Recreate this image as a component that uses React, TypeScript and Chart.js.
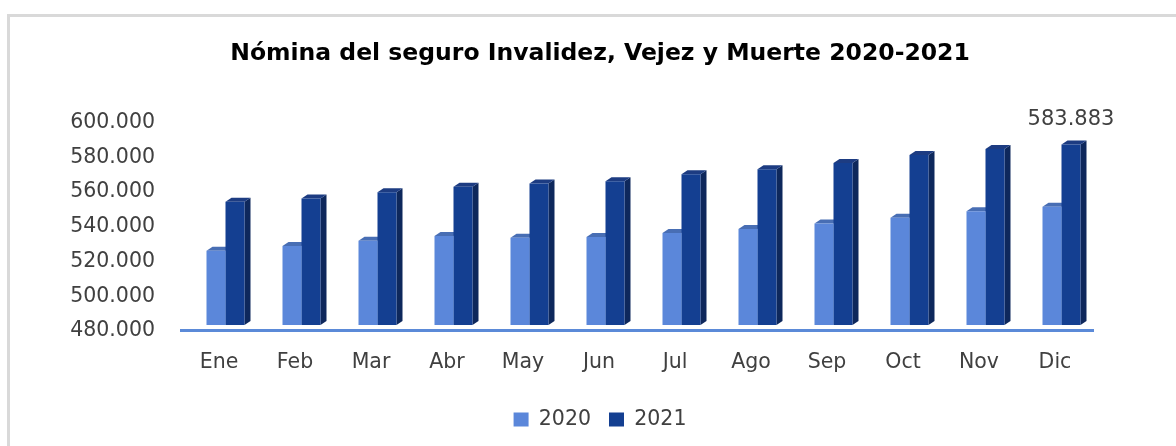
import React, { useEffect, useRef } from 'react';
import { Chart, registerables } from 'chart.js';

Chart.register(...registerables);

// ---- data ----
const categories = ['Ene', 'Feb', 'Mar', 'Abr', 'May', 'Jun', 'Jul', 'Ago', 'Sep', 'Oct', 'Nov', 'Dic'];
const seriesNames = ['2020', '2021'];
const values2020 = [522700, 525400, 528500, 531200, 530200, 530700, 533000, 535200, 538400, 541700, 545500, 548000];
const values2021 = [550900, 552800, 556400, 559500, 561400, 562800, 566800, 569700, 573300, 577900, 581300, 583883];
const yMin = 480000;
const yMax = 600000;
const yStep = 20000;
const titleText = 'Nómina del seguro Invalidez, Vejez y Muerte 2020-2021';

// ---- styles ----
const FONT = 'DejaVu Sans';
const FRONT = ['#5B87DA', '#143F91'];
const SIDE = ['#3F66B0', '#0E285C'];
const TOP = ['#486EB4', '#1D3C82'];
const DX = 6;
const DY = 4;

const fmt = (v: number) => Math.round(v).toString().replace(/\B(?=(\d{3})+(?!\d))/g, '.');

const bar3d = {
  id: 'bar3d',
  beforeDatasetsDraw(chart: any) {
    const ctx = chart.ctx;
    const ca = chart.chartArea;
    ctx.save();
    ctx.strokeStyle = '#5B8AD8';
    ctx.lineWidth = 3;
    ctx.beginPath();
    ctx.moveTo(ca.left - 7.5, ca.bottom + 5.5);
    ctx.lineTo(ca.right - 5.5, ca.bottom + 5.5);
    ctx.stroke();
    chart.data.datasets.forEach((_ds: any, di: number) => {
      const meta = chart.getDatasetMeta(di);
      meta.data.forEach((el: any) => {
        const p = el.getProps(['x', 'y', 'base', 'width'], true);
        const x = p.x;
        const y = p.y;
        const width = p.width;
        const base = Math.min(p.base, ca.bottom);
        const l = x - width / 2;
        const r = x + width / 2;
        ctx.fillStyle = SIDE[di];
        ctx.beginPath();
        ctx.moveTo(r, y);
        ctx.lineTo(r + DX, y - DY);
        ctx.lineTo(r + DX, base - DY);
        ctx.lineTo(r, base);
        ctx.closePath();
        ctx.fill();
        ctx.fillStyle = TOP[di];
        ctx.beginPath();
        ctx.moveTo(l, y);
        ctx.lineTo(l + DX, y - DY);
        ctx.lineTo(r + DX, y - DY);
        ctx.lineTo(r, y);
        ctx.closePath();
        ctx.fill();
      });
    });
    ctx.restore();
  },
  afterDatasetsDraw(chart: any) {
    const ctx = chart.ctx;
    const di = 1;
    const meta = chart.getDatasetMeta(di);
    const idx = values2021.length - 1;
    const el = meta.data[idx];
    if (!el) return;
    ctx.save();
    ctx.font = `21px "${FONT}"`;
    ctx.fillStyle = '#404040';
    ctx.textAlign = 'center';
    ctx.textBaseline = 'middle';
    ctx.fillText(fmt(values2021[idx]), el.x, el.y - 24.5);
    ctx.restore();
  },
};

export default function App() {
  const ref = useRef<HTMLCanvasElement | null>(null);

  useEffect(() => {
    if (!ref.current) return;
    const chart = new Chart(ref.current, {
      type: 'bar',
      data: {
        labels: categories,
        datasets: [
          { label: seriesNames[0], data: values2020, backgroundColor: FRONT[0], borderWidth: 0 },
          { label: seriesNames[1], data: values2021, backgroundColor: FRONT[1], borderWidth: 0 },
        ],
      },
      options: {
        responsive: false,
        animation: false,
        layout: { padding: { top: 0, left: 0, right: 0, bottom: 6.25 } },
        datasets: { bar: { categoryPercentage: 0.5, barPercentage: 1 } } as any,
        plugins: {
          title: {
            display: true,
            text: titleText,
            color: '#000000',
            font: { family: FONT, size: 23.5, weight: 'bold' },
            padding: { top: 40, bottom: 48.3 },
          },
          legend: {
            position: 'bottom',
            labels: {
              boxWidth: 15,
              boxHeight: 14,
              padding: 18,
              color: '#404040',
              font: { family: FONT, size: 20.5 },
            },
          },
          tooltip: { enabled: false },
        },
        scales: {
          x: {
            grid: { display: false, drawTicks: false },
            border: { display: false },
            ticks: {
              color: '#404040',
              font: { family: FONT, size: 20.5 },
              padding: 25.5,
              labelOffset: -6.5,
              maxRotation: 0,
              autoSkip: false,
            },
            afterFit: (s: any) => { s.height = 66.25; },
          },
          y: {
            min: yMin,
            max: yMax,
            grid: { display: false, drawTicks: false },
            border: { display: false },
            ticks: {
              stepSize: yStep,
              color: '#404040',
              font: { family: FONT, size: 20.5 },
              padding: 32.5,
              labelOffset: 6,
              callback: (v: any) => fmt(Number(v)),
            },
            afterFit: (s: any) => { s.width = 180.5; },
          },
          yRight: {
            type: 'linear',
            position: 'right',
            display: true,
            grid: { display: false, drawTicks: false },
            border: { display: false },
            ticks: { display: false },
            afterFit: (s: any) => { s.width = 93.5; },
          },
        },
      } as any,
      plugins: [bar3d],
    });
    return () => chart.destroy();
  }, []);

  return (
    <>
      <div
        style={{
          position: 'fixed',
          left: 7,
          top: 14,
          width: 1400,
          height: 800,
          borderTop: '3px solid #d9d9d9',
          borderLeft: '3px solid #d9d9d9',
          background: '#ffffff',
        }}
      />
      <canvas
        ref={ref}
        width={1186}
        height={446}
        style={{ position: 'fixed', left: 7, top: 0, width: 1186, height: 446, display: 'block' }}
      />
    </>
  );
}
